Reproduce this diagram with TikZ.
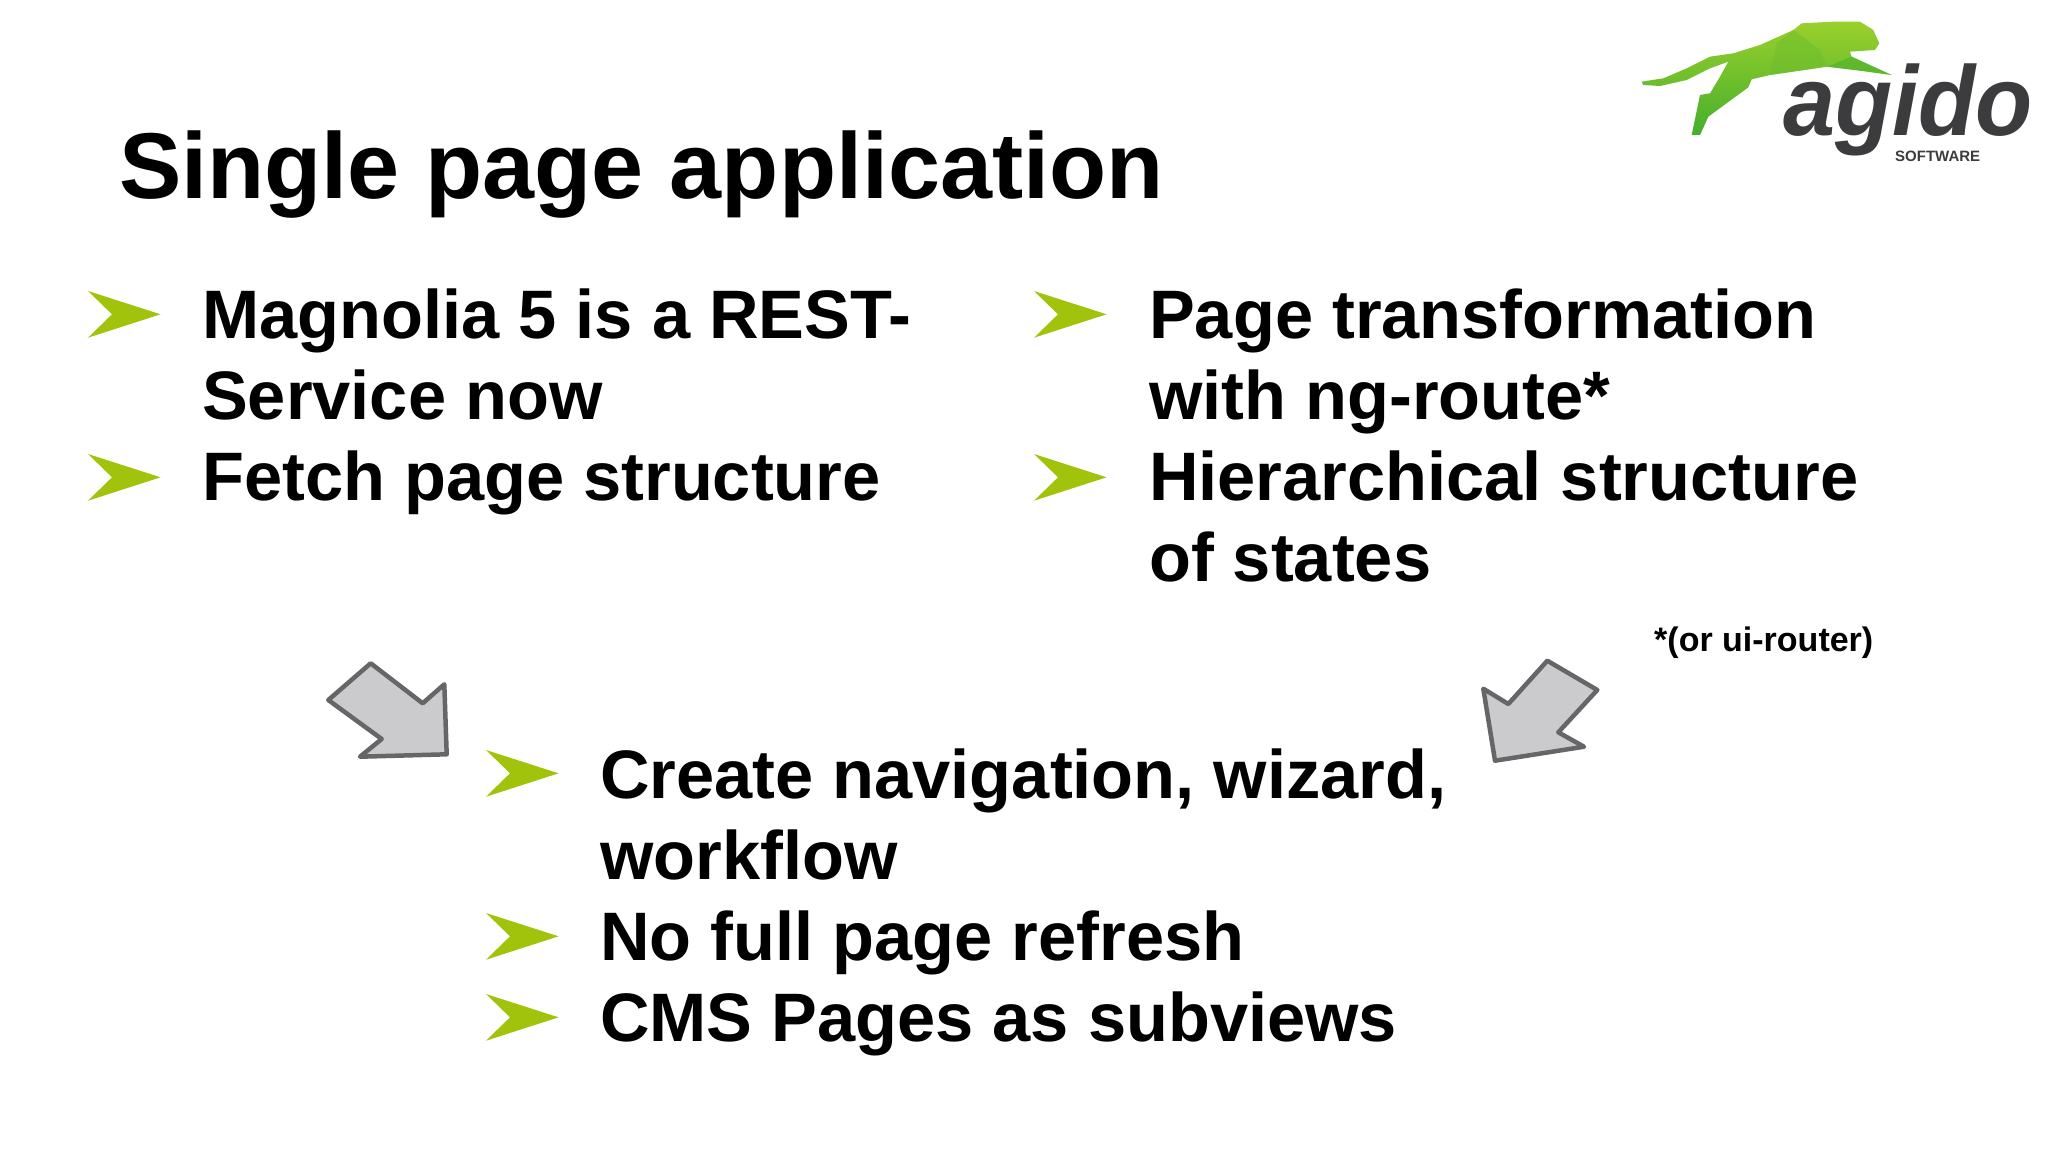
\documentclass[tikz,border=0pt]{standalone}
\usepackage{fontspec}
\setmainfont{Liberation Sans}
\definecolor{bulletgreen}{HTML}{A2C30C}
\definecolor{arrowfill}{HTML}{CBCBCD}
\definecolor{arrowline}{HTML}{666668}
\definecolor{logogray}{HTML}{3C3C3E}
\definecolor{pantherlight}{HTML}{9AD02C}
\definecolor{pantherdark}{HTML}{45AE2C}
\definecolor{panthermid}{HTML}{6DBE2C}
\tikzset{
    titletext/.style={anchor=base west,inner sep=0pt,font=\fontsize{93.5}{100}\selectfont\bfseries},
    bodytext/.style={anchor=base west,inner sep=0pt,font=\fontsize{68.6}{81}\selectfont\bfseries},
    notetext/.style={anchor=base west,inner sep=0pt,font=\fontsize{34}{40}\selectfont\bfseries},
    bigarrow/.style={fill=arrowfill,draw=arrowline,line width=4.5pt,line join=round},
}
\begin{document}
\begin{tikzpicture}[x=1pt,y=-1pt]
    \def\bulletpath{(0,0) -- (72.6,23.3) -- (0,46.7) -- (24,23.3) -- cycle}
    \def\pantherpath{(65,245) -- (130,235) -- (200,205) -- (270,170) -- (340,160)
        -- (420,135) -- (520,90) -- (545,70) -- (640,65) -- (720,65) -- (760,90)
        -- (778,130) -- (765,150) -- (690,155) -- (695,170) -- (815,225) -- (720,212)
        -- (620,200) -- (540,212) -- (450,225) -- (395,238) -- (385,262) -- (265,350)
        -- (240,405) -- (215,405) -- (240,285) -- (270,280) -- (300,230) -- (325,185)
        -- (270,205) -- (200,240) -- (120,258) -- (70,255) -- cycle}
    \useasboundingbox (0,0) rectangle (2048,1152);
    \fill[white] (0,0) rectangle (2048,1152);
    % title
    \node[titletext] (title) at (119,198) {Single page application};
    % bullets
    \foreach \bx/\by in {88/291,88/454,1034/291,1034/454,486/750,486/913,486/994}
        \fill[bulletgreen,shift={(\bx,\by)}] \bulletpath;
    % left column
    \node[bodytext] (magnolia) at (202,338) {Magnolia 5 is a REST-};
    \node[bodytext] (service) at (202,419) {Service now};
    \node[bodytext] (fetch) at (202,500) {Fetch page structure};
    % right column
    \node[bodytext] (transform) at (1149,338) {Page transformation};
    \node[bodytext] (route) at (1149,419) {with ng-route*};
    \node[bodytext] (hierarchy) at (1149,500) {Hierarchical structure};
    \node[bodytext] (states) at (1149,581) {of states};
    \node[notetext] (router) at (1654,651) {*(or ui-router)};
    % lower list
    \node[bodytext] (create) at (600,798) {Create navigation, wizard,};
    \node[bodytext] (workflow) at (600,879) {workflow};
    \node[bodytext] (refresh) at (600,960) {No full page refresh};
    \node[bodytext] (cms) at (600,1041) {CMS Pages as subviews};
    % grey arrows
    \draw[bigarrow] (370.7,663.3) -- (422.7,703.3) -- (444.3,684.3) -- (446.7,754.3)
        -- (360,756.7) -- (381.7,739) -- (328.3,700) -- cycle;
    \draw[bigarrow] (1547.3,660.7) -- (1597.3,690) -- (1558.3,732.3) -- (1584,746.7)
        -- (1495,760.7) -- (1483.3,688.7) -- (1508.3,704) -- cycle;
    % logo
    \begin{scope}[shift={(1620,0)},x=0.3333pt,y=-0.3333pt]
        \shade[top color=pantherlight,bottom color=pantherdark] \pantherpath;
        \fill[panthermid,opacity=0.5] (520,90) -- (600,150) -- (620,200) -- (540,212)
            -- (450,225) -- (470,130) -- cycle;
        \fill[pantherdark,opacity=0.5] (695,170) -- (815,225) -- (720,212) -- (620,200) -- cycle;
    \end{scope}
    \node[anchor=base west,inner sep=0pt,text=logogray,xscale=0.945,transform shape,
        font=\fontsize{99}{100}\selectfont\bfseries\itshape] (agido) at (1783,135) {agido};
    \node[anchor=base west,inner sep=0pt,text=logogray,
        font=\fontsize{15}{20}\selectfont\bfseries] (software) at (1895,161) {SOFTWARE};
\end{tikzpicture}
\end{document}
